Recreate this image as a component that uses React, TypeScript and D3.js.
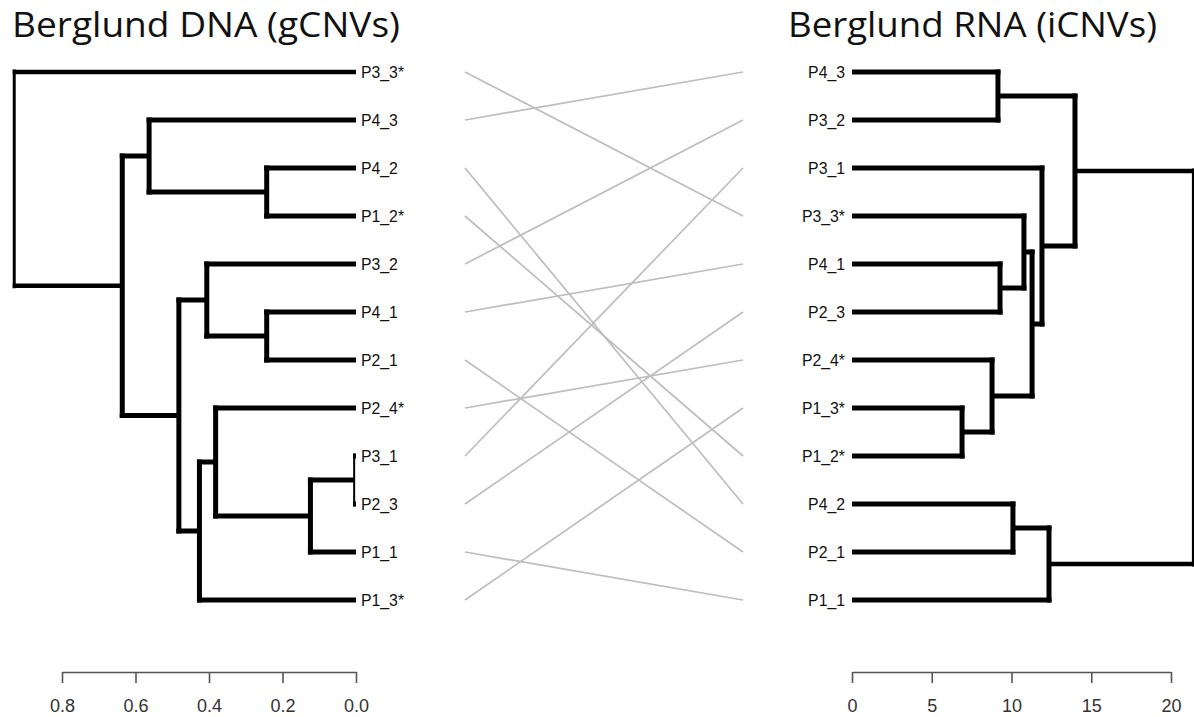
import React, { useEffect, useRef } from "react";
import * as d3 from "d3";

// merges in hclust style: [child, child, height], "mK" points at the K-th merge
const dnaMerges: [string, string, number][] = [
  ["P3_1", "P2_3", 0.005],
  ["m1", "P1_1", 0.124],
  ["P2_4*", "m2", 0.382],
  ["m3", "P1_3*", 0.426],
  ["P4_1", "P2_1", 0.243],
  ["P3_2", "m5", 0.406],
  ["m6", "m4", 0.482],
  ["P4_2", "P1_2*", 0.243],
  ["P4_3", "m8", 0.563],
  ["m9", "m7", 0.636],
  ["P3_3*", "m10", 0.93],
];

const rnaMerges: [string, string, number][] = [
  ["P1_3*", "P1_2*", 6.9],
  ["P2_4*", "m1", 8.78],
  ["P4_1", "P2_3", 9.28],
  ["P3_3*", "m3", 10.78],
  ["m4", "m2", 11.29],
  ["P3_1", "m5", 11.91],
  ["P4_3", "P3_2", 9.15],
  ["m7", "m6", 13.98],
  ["P4_2", "P2_1", 10.09],
  ["m9", "P1_1", 12.35],
  ["m8", "m10", 21.38],
];

const dnaTicks = [0.8, 0.6, 0.4, 0.2, 0.0];
const rnaTicks = [0, 5, 10, 15, 20];
const dnaTitle = "Berglund DNA (gCNVs)";
const rnaTitle = "Berglund RNA (iCNVs)";

const W = 1194;
const H = 717;
const leafTop = 72;
const leafBottom = 600;
const axisY = 672;
const labelFont = "'Liberation Sans', Arial, Helvetica, sans-serif";

type TreeNode = { name: string; height: number; children?: TreeNode[] };

function buildTree(merges: [string, string, number][]): TreeNode {
  const made: Record<string, TreeNode> = {};
  const get = (k: string): TreeNode => made[k] ?? { name: k, height: 0 };
  merges.forEach(([a, b, h], i) => {
    const key = "m" + (i + 1);
    made[key] = { name: key, height: h, children: [get(a), get(b)] };
  });
  return made["m" + merges.length];
}

function layoutTree(merges: [string, string, number][]) {
  const root = d3.hierarchy<TreeNode>(buildTree(merges));
  const names = root.leaves().map((l) => l.data.name);
  const yScale = d3.scalePoint<string>().domain(names).range([leafTop, leafBottom]);
  const ys = new Map<any, number>();
  root.eachAfter((n) => {
    if (n.children) ys.set(n, d3.mean(n.children, (c) => ys.get(c)!)!);
    else ys.set(n, yScale(n.data.name)!);
  });
  return { root, ys, yScale };
}

const dna = layoutTree(dnaMerges);
const rna = layoutTree(rnaMerges);

const xDna = d3.scaleLinear().domain([0.8, 0]).range([62, 356]);
const xRna = d3.scaleLinear().domain([0, 20]).range([852, 1171]);

function Dendrogram({ tree, x, rootWidth }: { tree: typeof dna; x: d3.ScaleLinear<number, number>; rootWidth: number }) {
  const { root, ys } = tree;
  const maxH = root.data.height;
  const segs: JSX.Element[] = [];
  let k = 0;
  root.each((n) => {
    if (!n.children) return;
    const px = x(n.data.height);
    const vw = n.depth === 0 ? rootWidth : n.data.height < 0.02 * maxH ? 2 : 5;
    const hw = n.depth === 0 ? 4.5 : 5;
    const dir = x(0) > px ? 1 : -1;
    const cy = n.children.map((c) => ys.get(c)!);
    segs.push(
      <line key={k++} x1={px} x2={px} y1={Math.min(...cy) - 2.5} y2={Math.max(...cy) + 2.5}
        stroke="#000" strokeWidth={vw} />
    );
    n.children.forEach((c) => {
      const cx = x(c.data.height);
      if (Math.abs(cx - px) < 1) return;
      segs.push(
        <line key={k++} x1={px - (dir * vw) / 2} x2={cx} y1={ys.get(c)} y2={ys.get(c)}
          stroke="#000" strokeWidth={hw} />
      );
    });
  });
  return <g>{segs}</g>;
}

function Axis({ scale, ticks, fmt }: { scale: d3.ScaleLinear<number, number>; ticks: number[]; fmt: (v: number) => string }) {
  const ref = useRef<SVGGElement>(null);
  useEffect(() => {
    const g = d3.select(ref.current!);
    g.call(
      d3.axisBottom(scale).tickValues(ticks).tickFormat((d) => fmt(d as number))
        .tickSize(11).tickSizeOuter(0).tickPadding(16)
    );
    g.select(".domain").attr("stroke", "#555").attr("stroke-width", 1.6);
    g.selectAll(".tick line").attr("stroke", "#555").attr("stroke-width", 1.6);
    g.selectAll(".tick text").attr("fill", "#333").attr("font-size", 18).attr("font-family", labelFont);
  }, [scale, ticks, fmt]);
  return <g ref={ref} transform={`translate(0,${axisY})`} />;
}

export default function App() {
  const dnaLeaves = dna.root.leaves().map((l) => l.data.name);
  const rnaLeaves = rna.root.leaves().map((l) => l.data.name);
  return (
    <svg width={W} height={H} style={{ position: "absolute", left: 0, top: 0, background: "#fff" }}>
      <text x={12} y={37} fontFamily="'Open Sans', 'Noto Sans', sans-serif" fontSize={35}
        textLength={388} lengthAdjust="spacingAndGlyphs" fill="#111">{dnaTitle}</text>
      <text x={788} y={37} fontFamily="'Open Sans', 'Noto Sans', sans-serif" fontSize={35}
        textLength={369} lengthAdjust="spacingAndGlyphs" fill="#111">{rnaTitle}</text>

      {dnaLeaves.map((name) => (
        <line key={"c" + name} x1={465} x2={743} y1={dna.yScale(name)} y2={rna.yScale(name)}
          stroke="#bdbdbd" strokeWidth={1.7} />
      ))}

      <Dendrogram tree={dna} x={xDna} rootWidth={3} />
      <Dendrogram tree={rna} x={xRna} rootWidth={2.2} />

      {dnaLeaves.map((name) => (
        <text key={"l" + name} x={361} y={dna.yScale(name)! + 5.5} fontFamily={labelFont}
          fontSize={15.8} fill="#111">{name}</text>
      ))}
      {rnaLeaves.map((name) => (
        <text key={"r" + name} x={845} y={rna.yScale(name)! + 5.5} fontFamily={labelFont}
          fontSize={15.8} fill="#111" textAnchor="end">{name}</text>
      ))}

      <Axis scale={xDna} ticks={dnaTicks} fmt={d3.format(".1f")} />
      <Axis scale={xRna} ticks={rnaTicks} fmt={d3.format("d")} />
    </svg>
  );
}
